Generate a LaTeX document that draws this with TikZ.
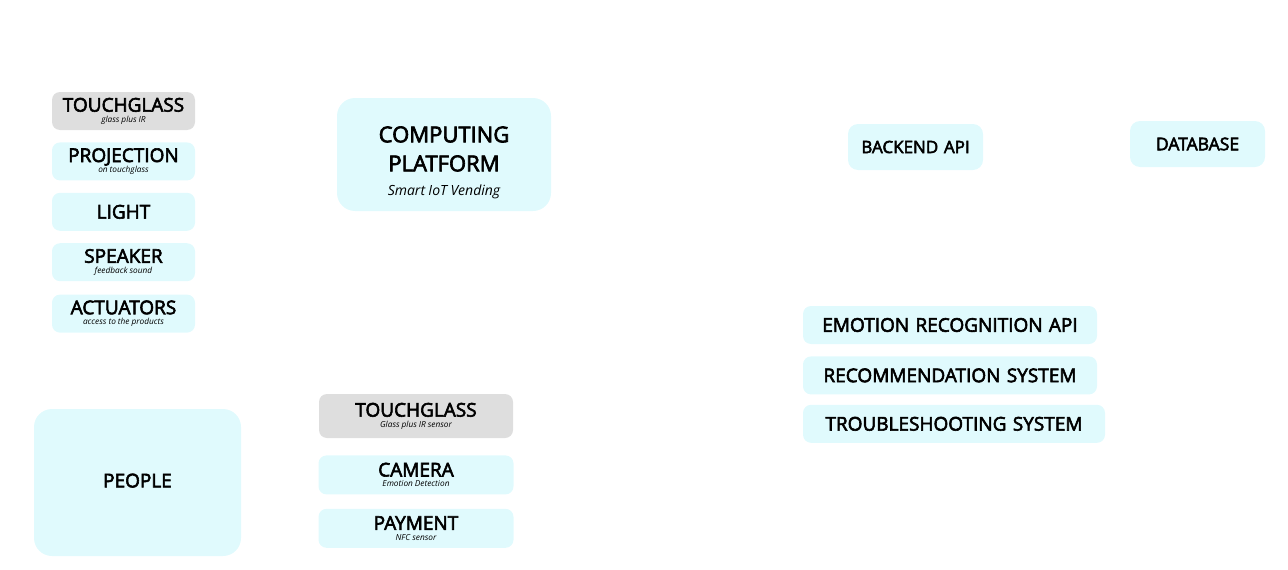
\documentclass[tikz,border=0pt]{standalone}
\usepackage{fontspec}
\setmainfont{Open Sans}
\newfontfamily\titlefont{Open Sans}[FakeBold=3]
\usepackage{tikz}
\usetikzlibrary{positioning}
\definecolor{boxcyan}{HTML}{E0FAFD}
\definecolor{boxgray}{HTML}{DEDEDE}
\tikzset{
  part/.style = {rectangle, fill=boxcyan, rounded corners=8pt, inner sep=0pt, align=center, text width=#1pt, minimum height=38pt},
  part/.default = 143,
  glass/.style = {part=#1, fill=boxgray},
  glass/.default = 143,
  service/.style = {part=294, font=\titlefont\fontsize{19}{21}\selectfont}
}
\newcommand{\Subtxt}{\normalfont\itshape\spaceskip=0.24em\relax}
\newcommand{\Boxtxt}[2]{{\titlefont\fontsize{19}{19}\selectfont #1}\\[-1.5pt]{\fontsize{8.3}{9}\Subtxt #2}}

\begin{document}
\begin{tikzpicture}[x=1pt, y=-1pt]
	\useasboundingbox (0,0) rectangle (1288,570);
	% outputs
	\node[glass] (touch) at (123.5,111) {\Boxtxt{TOUCHGLASS}{glass plus IR}};
	\node[part] (proj)  [below=12pt of touch] {\Boxtxt{PROJECTION}{on touchglass}};
	\node[part] (light) [below=12pt of proj] {{\titlefont\fontsize{19}{19}\selectfont LIGHT}};
	\node[part] (spk)   [below=12pt of light] {\Boxtxt{SPEAKER}{feedback sound}};
	\node[part] (act)   [below=13pt of spk] {\Boxtxt{ACTUATORS}{access to the products}};
	% platform
	\node[part=214, minimum height=113pt, rounded corners=18pt, font=\titlefont\fontsize{22}{29}\selectfont] (comp) at (444,154.5)
		{\rule{0pt}{32pt}COMPUTING\\PLATFORM\\[-5pt]{\fontsize{14}{16}\Subtxt Smart IoT Vending}};
	% cloud
	\node[part=135, minimum height=46pt, rounded corners=10pt, font=\titlefont\fontsize{17}{19}\selectfont] (back) at (915.5,147) {BACKEND API};
	\node[part=135, minimum height=46pt, rounded corners=10pt, font=\titlefont\fontsize{17.5}{19}\selectfont] (db) at (1197.5,144) {DATABASE};
	\node[service] (emo) at (950,325) {EMOTION RECOGNITION API};
	\node[service] (reco) [below=12pt of emo] {RECOMMENDATION SYSTEM};
	\node[service, text width=302pt, anchor=north west] (trouble) [below=10pt of reco.south west, anchor=north west] {TROUBLESHOOTING SYSTEM};
	% inputs
	\node[part=207, minimum height=147pt, rounded corners=18pt, font=\titlefont\fontsize{19}{21}\selectfont] (people) at (137.5,482.5) {\raisebox{4pt}{PEOPLE}};
	\node[glass=194, minimum height=44pt] (touchin) at (416,416) {\Boxtxt{TOUCHGLASS}{Glass plus IR sensor}};
	\node[part=195, minimum height=39pt] (cam) [below=17pt of touchin] {\Boxtxt{CAMERA}{Emotion Detection}};
	\node[part=195, minimum height=39pt] (pay) [below=14pt of cam] {\Boxtxt{PAYMENT}{NFC sensor}};
\end{tikzpicture}
\end{document}
